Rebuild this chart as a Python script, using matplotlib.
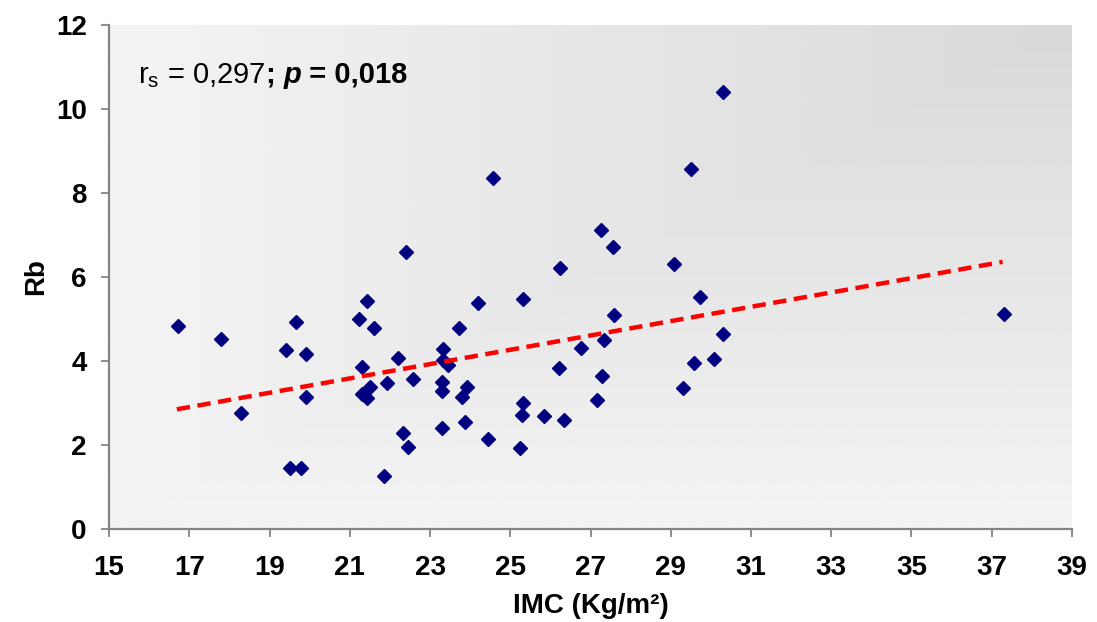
import numpy as np
import matplotlib
matplotlib.use("Agg")
import matplotlib.pyplot as plt
from matplotlib.transforms import offset_copy

# IMC (kg/m2) vs Rb
imc = [16.73, 17.79, 18.29, 19.42, 19.51, 19.67, 19.78, 19.91, 19.92, 21.22,
       21.30, 21.30, 21.44, 21.50, 21.44, 21.61, 21.85, 21.92, 22.20, 22.32,
       22.40, 22.46, 22.58, 23.32, 23.33, 23.46, 23.30, 23.30, 23.30, 23.72,
       23.91, 23.80, 23.87, 24.20, 24.44, 24.56, 25.32, 25.32, 25.29, 25.24,
       25.83, 26.21, 26.25, 26.34, 26.76, 27.16, 27.26, 27.28, 27.33, 27.57,
       27.58, 29.07, 29.30, 29.51, 29.57, 29.73, 30.09, 30.31, 30.31, 37.31]
rb = [4.83, 4.53, 2.77, 4.27, 1.45, 4.92, 1.45, 4.17, 3.14, 5.00,
      3.86, 3.21, 3.13, 3.39, 5.42, 4.79, 1.26, 3.47, 4.08, 2.29,
      6.60, 1.96, 3.57, 4.28, 4.02, 3.90, 3.51, 3.29, 2.40, 4.79,
      3.39, 3.14, 2.55, 5.37, 2.15, 8.35, 5.47, 3.00, 2.71, 1.93,
      2.70, 3.84, 6.21, 2.59, 4.31, 3.06, 7.11, 3.64, 4.49, 6.71,
      5.09, 6.31, 3.36, 8.56, 3.95, 5.53, 4.05, 10.41, 4.65, 5.12]

# trend line end points
trend_x = [16.69, 37.27]
trend_y = [2.85, 6.36]

x_ticks = list(range(15, 40, 2))
y_ticks = list(range(0, 13, 2))

plt.rcParams['font.family'] = ['Liberation Sans', 'DejaVu Sans']
plt.rcParams['mathtext.fontset'] = 'custom'
plt.rcParams['mathtext.rm'] = 'Liberation Sans'

fig = plt.figure(figsize=(10.97, 6.22), dpi=100)
ax = fig.add_axes([0.0994, 0.1495, 0.8778, 0.8103])

# corner gradient background (darker toward top right)
n = 300
u = np.linspace(0, 1, n)
U, V = np.meshgrid(u, u)
t = np.minimum(U, V)
light, dark = 0.955, 0.85
grad = light - (light - dark) * t
ax.imshow(grad, cmap='gray', vmin=0, vmax=1, origin='lower',
          extent=[0, 1, 0, 1], transform=ax.transAxes, aspect='auto', zorder=0)

ax.plot(imc, rb, linestyle='none', marker='D', markersize=7.5,
        color='#000080', zorder=3)
ax.plot(trend_x, trend_y, color='#ff0000', linewidth=3.2,
        dashes=(3.0, 1.7), zorder=4)

ax.set_xlim(15, 39)
ax.set_ylim(0, 12)
ax.set_xticks(x_ticks)
ax.set_yticks(y_ticks)

for side in ['top', 'right']:
    ax.spines[side].set_visible(False)
for side in ['left', 'bottom']:
    ax.spines[side].set_color('#858585')
    ax.spines[side].set_linewidth(1.6)

ax.tick_params(axis='both', direction='out', length=6, width=1.3,
               color='#858585', labelsize=20)
ax.tick_params(axis='y', pad=10)
ax.tick_params(axis='x', pad=13)
for lab in ax.get_xticklabels() + ax.get_yticklabels():
    lab.set_fontweight('bold')

ax.set_xlabel('IMC (Kg/m²)', fontsize=20, fontweight='bold', labelpad=8)
ax.set_ylabel('Rb', fontsize=20, fontweight='bold', labelpad=5)

# annotation built from pieces with different weights
renderer = fig.canvas.get_renderer()
pieces = [(r'r$_\mathregular{s}$ = 0,297', 'normal', 'normal'),
          ('; ', 'bold', 'normal'),
          ('p', 'bold', 'italic'),
          (' = 0,018', 'bold', 'normal')]
dx = 0.0
for s, w, st in pieces:
    tr = offset_copy(ax.transAxes, fig=fig, x=dx, y=0, units='dots')
    txt = ax.text(0.03, 0.885, s, transform=tr, fontsize=21, fontweight=w,
                  style=st, va='baseline', ha='left', zorder=5)
    dx += txt.get_window_extent(renderer).width

fig.savefig('out.png', dpi=100)
